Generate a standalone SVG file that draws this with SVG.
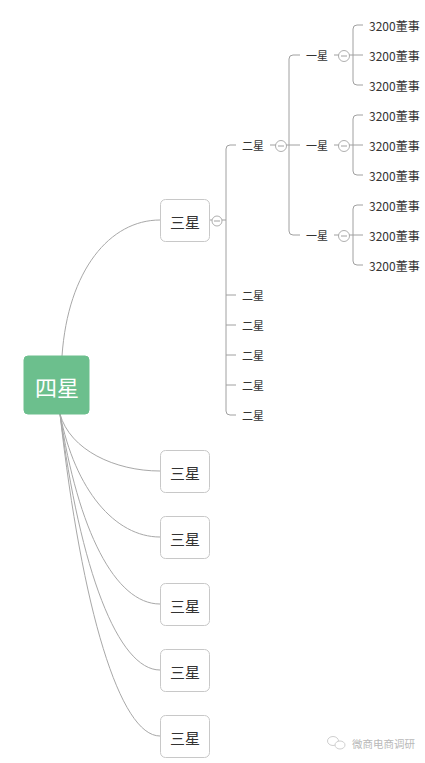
<svg xmlns="http://www.w3.org/2000/svg" width="425" height="763" viewBox="0 0 425 763">
<style>
.bg{fill:#ffffff}
.link{fill:none;stroke:#a8a8a8;stroke-width:1}
.tree{fill:none;stroke:#a0a0a0;stroke-width:1}
.box{fill:#ffffff;stroke:#c8c8c8;stroke-width:1}
.root{fill:#6cbf8d;stroke:#6cbf8d}
.col{fill:#ffffff;stroke:#9a9a9a;stroke-width:0.8}
.colbar{stroke:#8a8a8a;stroke-width:0.8}
.t3{font-family:"Noto Sans CJK SC","Liberation Sans",sans-serif;font-size:15px;fill:#333;text-anchor:middle;dominant-baseline:central}
.t2{font-family:"Noto Sans CJK SC","Liberation Sans",sans-serif;font-size:11px;fill:#333;dominant-baseline:central}
.lf{font-family:"Noto Sans CJK SC","Liberation Sans",sans-serif;font-size:12px;fill:#333;dominant-baseline:central}
.rt{font-family:"Noto Sans CJK SC","Liberation Sans",sans-serif;font-size:22px;fill:#fff;text-anchor:middle;dominant-baseline:central}
.wm{font-family:"Noto Sans CJK SC","Liberation Sans",sans-serif;font-size:10.5px;fill:#b8b8b8;dominant-baseline:central}
</style>
<rect class="bg" x="0" y="0" width="425" height="763"/>
<g id="connectors">
<path class="link" d="M62,356 C68,270 110,220 160,220"/>
<path class="link" d="M60,414 C70,450 115,471 160,471"/>
<path class="link" d="M60,414 C75,490 115,537 160,537"/>
<path class="link" d="M60,414 C78,530 115,604 160,604"/>
<path class="link" d="M60,414 C80,570 118,670 160,670"/>
<path class="link" d="M60,414 C82,610 120,736 160,736"/>
<line class="tree" x1="210" y1="220" x2="212" y2="220"/>
<line class="tree" x1="222" y1="220" x2="226" y2="220"/>
<path class="tree" d="M236,145 H230 Q226,145 226,149 V411 Q226,415 230,415 H236"/>
<line class="tree" x1="226" y1="295" x2="236" y2="295"/>
<line class="tree" x1="226" y1="325" x2="236" y2="325"/>
<line class="tree" x1="226" y1="355" x2="236" y2="355"/>
<line class="tree" x1="226" y1="385" x2="236" y2="385"/>
<line class="tree" x1="270" y1="145" x2="276" y2="145"/>
<path class="tree" d="M300,55 H293 Q289,55 289,59 V231 Q289,235 293,235 H300"/>
<line class="tree" x1="286" y1="145" x2="300" y2="145"/>
<line class="tree" x1="334" y1="55" x2="339" y2="55"/>
<line class="tree" x1="334" y1="145" x2="339" y2="145"/>
<line class="tree" x1="334" y1="235" x2="339" y2="235"/>
<path class="tree" d="M363,25 H357 Q353,25 353,29 V81 Q353,85 357,85 H363"/>
<line class="tree" x1="349" y1="55" x2="363" y2="55"/>
<path class="tree" d="M363,115 H357 Q353,115 353,119 V171 Q353,175 357,175 H363"/>
<line class="tree" x1="349" y1="145" x2="363" y2="145"/>
<path class="tree" d="M363,205 H357 Q353,205 353,209 V261 Q353,265 357,265 H363"/>
<line class="tree" x1="349" y1="235" x2="363" y2="235"/>
</g>
<g id="root">
<rect class="root" x="24" y="356" width="65" height="58" rx="4"/>
<text class="rt" x="57" y="386">四星</text>
</g>
<g id="n3-1">
<rect class="box" x="160.5" y="199.5" width="49" height="42" rx="5"/>
<text class="t3" x="185" y="221">三星</text>
<circle class="col" cx="217" cy="221" r="5"/>
<line class="colbar" x1="214" y1="221" x2="220" y2="221"/>
</g>
<g id="n3-2"><rect class="box" x="160.5" y="450.5" width="49" height="42" rx="5"/><text class="t3" x="185" y="472">三星</text></g>
<g id="n3-3"><rect class="box" x="160.5" y="516.5" width="49" height="42" rx="5"/><text class="t3" x="185" y="538">三星</text></g>
<g id="n3-4"><rect class="box" x="160.5" y="583.5" width="49" height="42" rx="5"/><text class="t3" x="185" y="605">三星</text></g>
<g id="n3-5"><rect class="box" x="160.5" y="649.5" width="49" height="42" rx="5"/><text class="t3" x="185" y="671">三星</text></g>
<g id="n3-6"><rect class="box" x="160.5" y="715.5" width="49" height="42" rx="5"/><text class="t3" x="185" y="737">三星</text></g>
<g id="n2-1">
<text class="t2" x="242" y="145">二星</text>
<circle class="col" cx="281" cy="146" r="5.5"/>
<line class="colbar" x1="278" y1="146" x2="284" y2="146"/>
</g>
<g id="n2-2"><text class="t2" x="242" y="295">二星</text></g>
<g id="n2-3"><text class="t2" x="242" y="325">二星</text></g>
<g id="n2-4"><text class="t2" x="242" y="355">二星</text></g>
<g id="n2-5"><text class="t2" x="242" y="385">二星</text></g>
<g id="n2-6"><text class="t2" x="242" y="415">二星</text></g>
<g id="n1-1">
<text class="t2" x="306" y="55">一星</text>
<circle class="col" cx="344" cy="56" r="5.5"/>
<line class="colbar" x1="341" y1="56" x2="347" y2="56"/>
</g>
<g id="n1-2">
<text class="t2" x="306" y="145">一星</text>
<circle class="col" cx="344" cy="146" r="5.5"/>
<line class="colbar" x1="341" y1="146" x2="347" y2="146"/>
</g>
<g id="n1-3">
<text class="t2" x="306" y="235">一星</text>
<circle class="col" cx="344" cy="236" r="5.5"/>
<line class="colbar" x1="341" y1="236" x2="347" y2="236"/>
</g>
<g id="leaf-1"><text class="lf" x="369" y="25">3200董事</text></g>
<g id="leaf-2"><text class="lf" x="369" y="55">3200董事</text></g>
<g id="leaf-3"><text class="lf" x="369" y="85">3200董事</text></g>
<g id="leaf-4"><text class="lf" x="369" y="115">3200董事</text></g>
<g id="leaf-5"><text class="lf" x="369" y="145">3200董事</text></g>
<g id="leaf-6"><text class="lf" x="369" y="175">3200董事</text></g>
<g id="leaf-7"><text class="lf" x="369" y="205">3200董事</text></g>
<g id="leaf-8"><text class="lf" x="369" y="235">3200董事</text></g>
<g id="leaf-9"><text class="lf" x="369" y="265">3200董事</text></g>
<g id="watermark">
<ellipse cx="333" cy="741" rx="5.5" ry="4.5" fill="none" stroke="#cfcfcf" stroke-width="1"/>
<ellipse cx="340" cy="745" rx="5" ry="4" fill="#fff" stroke="#cfcfcf" stroke-width="1"/>
<text class="wm" x="352" y="743">微商电商调研</text>
</g>
</svg>
